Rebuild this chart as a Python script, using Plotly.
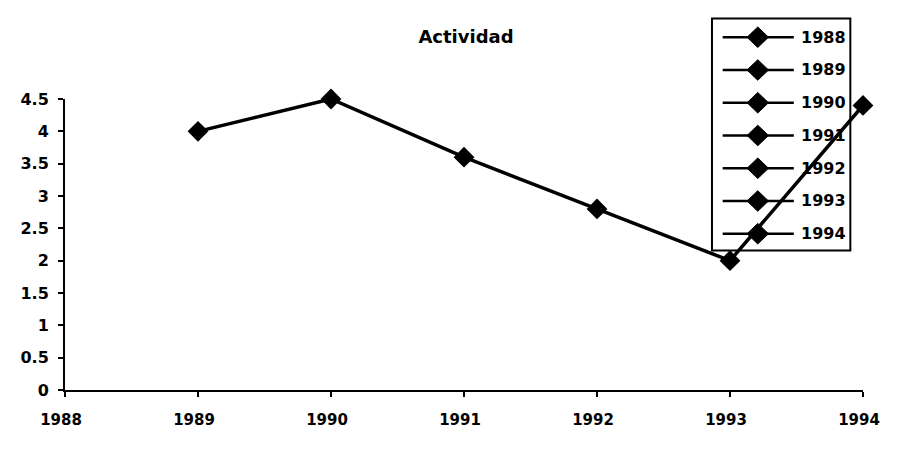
import plotly.graph_objects as go

years = [1989, 1990, 1991, 1992, 1993, 1994]
actividad = [4.0, 4.5, 3.6, 2.8, 2.0, 4.4]
legend_labels = ["1988", "1989", "1990", "1991", "1992", "1993", "1994"]
x_ticks = [1988, 1989, 1990, 1991, 1992, 1993, 1994]
y_ticks = [0, 0.5, 1, 1.5, 2, 2.5, 3, 3.5, 4, 4.5]

FONT = "DejaVu Sans, Liberation Sans, sans-serif"
# page keeps its default 8px body margin; the figure is sized to fit 900x449 exactly
W, H = 884, 433
L, R, T, B = 50, 15, 91, 31
PW, PH = W - L - R, H - T - B

def xp(px):
    return (px - L) / PW

def yp(py):
    return (H - B - py) / PH

fig = go.Figure()
fig.add_trace(go.Scatter(
    x=years, y=actividad, mode="lines+markers", name=legend_labels[0],
    line=dict(color="black", width=3.5),
    marker=dict(symbol="diamond", size=16, color="black"),
    cliponaxis=False, showlegend=False,
))

# manual legend: box, line samples with diamonds, labels
shapes = [dict(type="rect", xref="paper", yref="paper",
               x0=xp(714), x1=xp(856), y0=yp(253), y1=yp(5),
               line=dict(color="black", width=2), fillcolor="rgba(0,0,0,0)", layer="below")]
annotations = []
for i, lab in enumerate(legend_labels):
    cy = 25 + 35 * i
    shapes.append(dict(type="line", xref="paper", yref="paper",
                       x0=xp(725), x1=xp(798), y0=yp(cy), y1=yp(cy),
                       line=dict(color="black", width=2.5), layer="below"))
    cx, r = 761, 11
    path = (f"M {xp(cx - r)},{yp(cy)} L {xp(cx)},{yp(cy - r)} "
            f"L {xp(cx + r)},{yp(cy)} L {xp(cx)},{yp(cy + r)} Z")
    shapes.append(dict(type="path", xref="paper", yref="paper", path=path,
                       fillcolor="black", line=dict(color="black", width=1), layer="below"))
    annotations.append(dict(text=lab, xref="paper", yref="paper", x=xp(803), y=yp(cy),
                            xanchor="left", yanchor="middle", showarrow=False,
                            font=dict(family=FONT, size=16, color="black", weight="bold")))

fig.update_layout(
    width=W, height=H,
    margin=dict(l=L, r=R, t=T, b=B),
    paper_bgcolor="white", plot_bgcolor="white",
    font=dict(family=FONT, size=16, color="black", weight="bold"),
    title=dict(text="Actividad", xref="container", yref="container",
               x=458 / W, xanchor="center", y=1 - 29 / H, yanchor="middle",
               font=dict(family=FONT, size=18, color="black", weight="bold")),
    showlegend=False,
    shapes=shapes,
    annotations=annotations,
    xaxis=dict(range=[1988, 1994], tickvals=x_ticks, ticktext=[str(v) for v in x_ticks],
               showgrid=False, zeroline=False, showline=True, linecolor="black", linewidth=2,
               ticks="outside", ticklen=5, tickwidth=2, tickcolor="black",
               ticklabelstandoff=10, ticklabelshift=-4, ticklabeloverflow="allow",
               tickfont=dict(family=FONT, size=15, color="black", weight="bold")),
    yaxis=dict(range=[0, 4.5], tickvals=y_ticks, ticktext=[f"{v:g}" for v in y_ticks],
               showgrid=False, zeroline=False, showline=True, linecolor="black", linewidth=2,
               ticks="outside", ticklen=5, tickwidth=2, tickcolor="black",
               ticklabelstandoff=6),
)

fig.write_html("out.html", config={"displayModeBar": False})
